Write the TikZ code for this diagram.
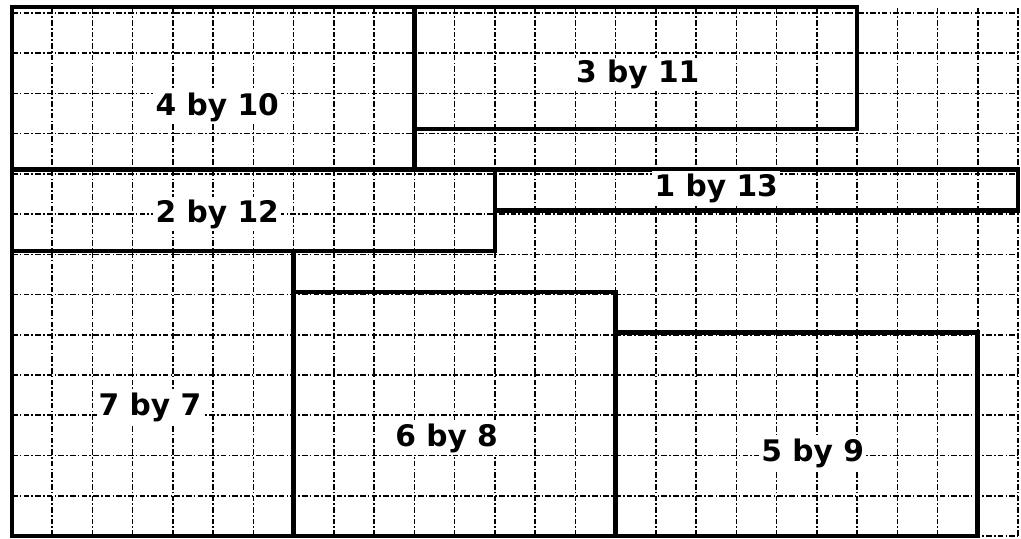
\documentclass[tikz,border=0pt]{standalone}
\usepackage{fontspec}
\setsansfont{DejaVu Sans}
\begin{document}
\begin{tikzpicture}[
  x=1cm,y=1.0112cm,
  gridline/.style={line width=1.1pt,dash pattern=on 4pt off 1.5pt on 1.2pt off 1.5pt},
  tile/.style={line width=3.2pt},
  tilelabel/.style={fill=white,inner sep=1.5pt,
                    font=\sffamily\bfseries\fontsize{21}{25}\selectfont}
]
  \useasboundingbox (-0.298,-0.074) rectangle (25.075,13.172);
  \draw[gridline] (0,0) grid (25,13);
  % the seven tiles
  \draw[tile] (0,9) rectangle (10,13);
  \draw[tile] (10,10) rectangle (21,13);
  \draw[tile] (0,7) rectangle (12,9);
  \draw[tile] (12,8) rectangle (25,9);
  \draw[tile] (0,0) rectangle (7,7);
  \draw[tile] (7,0) rectangle (15,6);
  \draw[tile] (15,0) rectangle (24,5);
  \node[tilelabel] (t4x10) at (5.1,10.54) {4 by 10};
  \node[tilelabel] (t3x11) at (15.55,11.35) {3 by 11};
  \node[tilelabel] (t2x12) at (5.1,7.91) {2 by 12};
  \node[tilelabel] (t1x13) at (17.5,8.55) {1 by 13};
  \node[tilelabel] (t7x7) at (3.43,3.15) {7 by 7};
  \node[tilelabel] (t6x8) at (10.8,2.4) {6 by 8};
  \node[tilelabel] (t5x9) at (19.9,2.04) {5 by 9};
\end{tikzpicture}
\end{document}
